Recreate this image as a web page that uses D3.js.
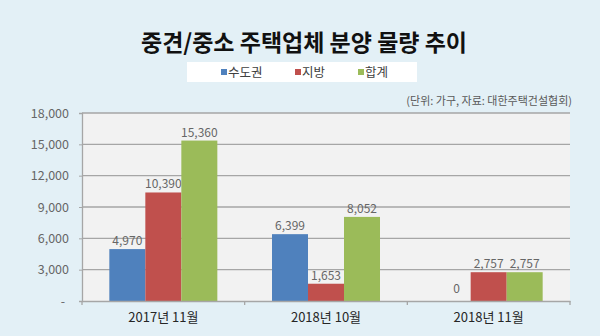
<!DOCTYPE html>
<html><head><meta charset="utf-8">
<script src="https://cdn.jsdelivr.net/npm/d3@7"></script>
<style>body{margin:0;background:#e3f0f6;}svg{display:block;font-family:"Noto Sans CJK KR","Noto Sans",sans-serif;}</style>
</head><body><svg id="c" width="600" height="336"></svg>
<script>
const categories = ["2017년 11월", "2018년 10월", "2018년 11월"];
const seriesNames = ["수도권", "지방", "합계"];
const seriesColors = ["#4f81bd", "#c0504d", "#9bbb59"];
const capital = [4970, 6399, 0];
const regional = [10390, 1653, 2757];
const total = [15360, 8052, 2757];
const yTicks = [0, 3000, 6000, 9000, 12000, 15000, 18000];
const title = "중견/중소 주택업체 분양 물량 추이";
const note = "(단위: 가구, 자료: 대한주택건설협회)";

const series = [capital, regional, total];
const svg = d3.select("#c");
svg.append("rect").attr("width",600).attr("height",336).attr("fill","#e3f0f6");

const m = {l:82, r:570, t:113, b:301};
const x0 = d3.scaleBand().domain(categories).range([m.l, m.r]).paddingInner(0).paddingOuter(0);
const groupW = 108;
const x1 = d3.scaleBand().domain(d3.range(3)).range([0, groupW]);
const y = d3.scaleLinear().domain([0,18000]).range([m.b, m.t]);

svg.append("rect").attr("x",m.l).attr("y",m.t).attr("width",m.r-m.l).attr("height",m.b-m.t).attr("fill","#f2f2f2");

// gridlines
svg.append("g").selectAll("line").data(yTicks.filter(d=>d>0)).join("line")
  .attr("x1",m.l).attr("x2",m.r).attr("y1",d=>y(d)).attr("y2",d=>y(d))
  .attr("stroke","#a6a6a6").attr("stroke-width",1.3);

// y axis
const yAxis = d3.axisLeft(y).tickValues(yTicks).tickSize(3).tickPadding(10)
  .tickFormat(d=> d===0 ? "-" : d3.format(",")(d));
const gy = svg.append("g").attr("transform",`translate(${m.l},0)`).call(yAxis);
gy.select(".domain").attr("stroke","#a6a6a6").attr("stroke-width",1.3);
gy.selectAll(".tick line").attr("stroke","#a6a6a6");
gy.selectAll("text").attr("fill","#666666").attr("font-size",12.5).attr("font-family","'Noto Sans CJK KR',sans-serif");
gy.selectAll(".tick").filter(d=>d===0).select("text").attr("dx",-4);

// bars
const groups = svg.append("g").selectAll("g").data(categories).join("g")
  .attr("transform",(d)=>`translate(${x0(d)+x0.bandwidth()/2-groupW/2},0)`);
groups.each(function(cat, ci){
  const g = d3.select(this);
  series.forEach((s, si)=>{
    const v = s[ci];
    g.append("rect").attr("x",x1(si)).attr("width",x1.bandwidth())
      .attr("y",y(v)).attr("height",m.b-y(v)).attr("fill",seriesColors[si]);
    g.append("text").attr("x",x1(si)+x1.bandwidth()/2 + (v===0?4:0)).attr("y",v===0 ? y(v)-8 : y(v)-4)
      .attr("text-anchor","middle").attr("fill","#666666").attr("font-size",12)
      .text(d3.format(",")(v));
  });
});

// x axis
const xAxis = d3.axisBottom(x0).tickSize(0).tickPadding(12);
const gx = svg.append("g").attr("transform",`translate(0,${m.b})`).call(xAxis);
gx.select(".domain").attr("stroke","#a6a6a6").attr("stroke-width",1.3);
gx.selectAll("text").attr("fill","#262626").attr("font-size",13).attr("font-family","'Noto Sans CJK KR',sans-serif");
// category boundary ticks
svg.append("g").selectAll("line").data(categories.map((c,i)=>i).concat([3])).join("line")
  .attr("x1",i=> i<3 ? x0(categories[i]) : m.r).attr("x2",i=> i<3 ? x0(categories[i]) : m.r)
  .attr("y1",m.b).attr("y2",m.b+4).attr("stroke","#a6a6a6").attr("stroke-width",1.3);

// title
svg.append("text").attr("x",304).attr("y",51).attr("text-anchor","middle")
  .attr("font-size",23).attr("font-weight","bold").attr("fill","#111").text(title);

// legend
svg.append("rect").attr("x",187).attr("y",62).attr("width",230).attr("height",20).attr("fill","#ffffff");
const legX = [221, 295, 358];
seriesNames.forEach((n,i)=>{
  svg.append("rect").attr("x",legX[i]).attr("y",69).attr("width",6).attr("height",6).attr("fill",seriesColors[i]);
  svg.append("text").attr("x",legX[i]+7).attr("y",77).attr("font-size",12.5).attr("fill","#404040").text(n);
});

// note
svg.append("text").attr("x",572).attr("y",105).attr("text-anchor","end")
  .attr("font-size",11).attr("fill","#595959").text(note);
</script></body></html>
